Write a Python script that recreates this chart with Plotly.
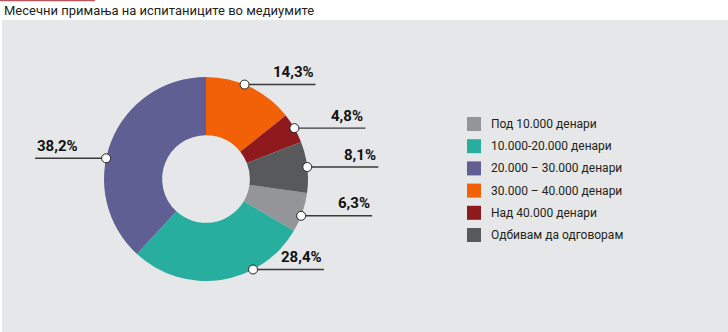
import math
import plotly.graph_objects as go

# --- data -------------------------------------------------------------
categories = [
    "Под 10.000 денари",
    "10.000-20.000 денари",
    "20.000 – 30.000 денари",
    "30.000 – 40.000 денари",
    "Над 40.000 денари",
    "Одбивам да одговорам",
]
shares = [6.3, 28.4, 38.2, 14.3, 4.8, 8.1]
value_labels = ["6,3%", "28,4%", "38,2%", "14,3%", "4,8%", "8,1%"]
colors = ["#939598", "#27ae9f", "#5f5f94", "#f26008", "#8e1a1e", "#58595b"]
title_text = "Месечни примања на испитаниците во медиумите"

# --- layout settings (pixels) -----------------------------------------
W, H = 728, 332
CX, CY, R = 206, 179, 102          # donut centre and outer radius
HOLE = 0.43
LEADER_LEN = 71
# small angular shifts so leader lines clear each other
leader_nudge_deg = [2.0, -19.0, -9.6, -3.5, 0.0, 0.0]
LEG_X, LEG_Y0, LEG_STEP, LEG_BOX = 467, 124, 22.2, 14

def px(x):
    return x / W

def py(y):
    return 1 - y / H

# first slice in the list must start so that "30.000 – 40.000" begins at 12 o'clock
total = sum(shares)
first_of_top = categories.index("30.000 – 40.000 денари")
rotation = 360 - sum(shares[:first_of_top]) / total * 360

fig = go.Figure(
    go.Pie(
        labels=categories,
        values=shares,
        hole=HOLE,
        sort=False,
        direction="clockwise",
        rotation=rotation,
        marker=dict(colors=colors, line=dict(width=0)),
        textinfo="none",
        hoverinfo="label+percent",
        showlegend=False,
        domain=dict(x=[px(CX - R), px(CX + R)], y=[py(CY + R), py(CY - R)]),
    )
)

shapes = []
annotations = []

# grey panel and top accent
shapes.append(dict(type="rect", xref="paper", yref="paper", x0=px(2), x1=1, y0=0, y1=py(20),
                   fillcolor="#e6e7e8", line=dict(width=0), layer="below"))
shapes.append(dict(type="line", xref="paper", yref="paper", x0=0, x1=px(95), y0=py(0.6), y1=py(0.6),
                   line=dict(color="#b8545a", width=1.5), layer="below"))

annotations.append(dict(text=title_text, xref="paper", yref="paper", x=px(2), y=py(10),
                        xanchor="left", yanchor="middle", showarrow=False,
                        font=dict(family="Roboto", size=13, color="#231f20")))

# leader lines, dots and value labels
cum = rotation
dots = []
for val, lab, nudge in zip(shares, value_labels, leader_nudge_deg):
    mid = cum + val / total * 360 / 2
    cum += val / total * 360
    a = math.radians(mid + nudge)
    dx, dy = CX + R * math.sin(a), CY - R * math.cos(a)
    side = 1 if math.sin(a) > 0 else -1
    ex = dx + side * LEADER_LEN
    shapes.append(dict(type="line", xref="paper", yref="paper",
                       x0=px(dx), x1=px(ex), y0=py(dy), y1=py(dy),
                       line=dict(color="#3a3a3a", width=1.4)))
    dots.append(dict(type="circle", xref="paper", yref="paper",
                     x0=px(dx - 4.5), x1=px(dx + 4.5), y0=py(dy + 4.5), y1=py(dy - 4.5),
                     fillcolor="white", line=dict(color="#222222", width=1)))
    annotations.append(dict(text=f"<b>{lab}</b>", xref="paper", yref="paper",
                            x=px(ex), y=py(dy - 1.5),
                            xanchor="right" if side > 0 else "left", yanchor="bottom",
                            showarrow=False,
                            font=dict(family="Roboto", size=15, color="#111111")))
shapes.extend(dots)

# legend
for i, (cat, col) in enumerate(zip(categories, colors)):
    yc = LEG_Y0 + i * LEG_STEP
    shapes.append(dict(type="rect", xref="paper", yref="paper",
                       x0=px(LEG_X), x1=px(LEG_X + LEG_BOX),
                       y0=py(yc + LEG_BOX / 2), y1=py(yc - LEG_BOX / 2),
                       fillcolor=col, line=dict(width=0)))
    annotations.append(dict(text=cat, xref="paper", yref="paper",
                            x=px(LEG_X + LEG_BOX + 8), y=py(yc),
                            xanchor="left", yanchor="middle", showarrow=False,
                            font=dict(family="Roboto", size=12, color="#231f20")))

fig.update_layout(
    width=W, height=H, autosize=False,
    margin=dict(l=0, r=0, t=0, b=0),
    paper_bgcolor="white", plot_bgcolor="white",
    shapes=shapes, annotations=annotations,
)

fig.write_html("out.html")
